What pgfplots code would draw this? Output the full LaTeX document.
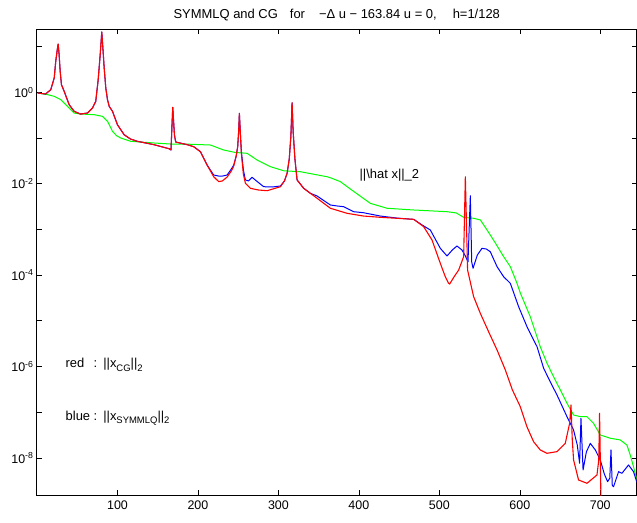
\documentclass[border=0pt]{standalone}
\usepackage{fontspec}
\setmainfont{Liberation Sans}
\usepackage{pgfplots}
\pgfplotsset{compat=1.18}
\definecolor{mgreen}{rgb}{0,1,0}
\newcommand{\sub}[1]{\raisebox{-3.5bp}{\fontsize{9.5}{10}\selectfont #1}}
\begin{document}
\begin{tikzpicture}
\begin{axis}[
  name=ax,
  at={(0,0)}, anchor=south west,
  scale only axis, width=599.5bp, height=465.5bp,
  ymode=log,
  xmin=0, xmax=745, ymin=1.54e-9, ymax=23.7,
  xtick={100,200,...,700},
  ytick={1e-8,1e-7,1e-6,1e-5,1e-4,1e-3,1e-2,1e-1,1,10},
  yticklabels={10\textsuperscript{-8},,10\textsuperscript{-6},,10\textsuperscript{-4},,10\textsuperscript{-2},,10\textsuperscript{0},},
  yminorticks=false,
  tick align=inside, tick pos=both,
  major tick length=5bp,
  tick style={black, line width=0.6bp},
  axis line style={line width=1bp},
  tick label style={font=\fontsize{12.5}{14}\selectfont},
  x tick label style={yshift=-2bp},
  /pgf/number format/assume math mode=true,
  every axis plot/.append style={line join=round},
]
% ||\hat x||_2
\addplot[mgreen, line width=1bp] coordinates {
(1,0.966) (12,0.90) (21.4,0.817) (29.6,0.689) (37.9,0.494) (46.2,0.352) (54.0,0.335)
(71.1,0.324) (81.4,0.298) (87.6,0.232) (93.8,0.140) (99,0.112) (104.1,0.1) (116.5,0.0847)
(145.6,0.0778) (166.2,0.0739) (182.4,0.0739) (215.5,0.0703) (232.0,0.0546)
(246.6,0.0482) (261.1,0.0463) (273.5,0.033) (290.0,0.0236) (306.6,0.0192)
(327.3,0.0183) (360.5,0.0142) (364.6,0.0135) (377.0,0.0111) (389.4,0.00766)
(414.2,0.00372) (435.0,0.0029) (468.1,0.00266) (509.6,0.00244) (521.1,0.00229)
(530.2,0.00184) (542.6,0.00175) (551.0,0.00161) (559.3,9.7e-4) (569.6,5.04e-4)
(579.9,2.53e-4) (588.2,1.53e-4) (596.5,6.6e-5) (600.6,4.07e-5) (613.0,1.23e-5)
(625.4,2.71e-6) (633.6,1.2e-6) (641.9,5.98e-7) (650.2,3.1e-7) (658.6,1.57e-7)
(666.8,8.69e-8) (675.1,7.98e-8) (683.4,7.98e-8) (691.6,5.71e-8) (700.0,3.17e-8)
(712.4,2.69e-8) (724.8,2.47e-8) (733.1,1.91e-8) (737.2,1.16e-8) (741.3,6.41e-9)
(745.5,3.28e-9)
};
% SYMMLQ
\addplot[blue, line width=1bp] coordinates {
(1,0.966) (10.6,0.918) (17.1,1.14) (21.4,2.06) (23.3,4.77) (25.2,8.6) (26.3,11.4)
(27.5,6.65) (28.8,2.88) (30.4,1.47) (33.8,1.05) (36.5,0.78) (40.0,0.535)
(46.2,0.384) (54.0,0.335) (62.7,0.352) (68.9,0.453) (73.0,0.635) (76.0,1.86)
(78.5,6.55) (80.5,20.9) (81.6,11.0) (83.5,3.4) (85.5,1.24) (87.6,0.69)
(89.7,0.494) (93.8,0.384) (100,0.195) (108.3,0.118) (116.1,0.0951) (124.8,0.0847)
(145.6,0.0713) (164.2,0.0583) (166.5,0.0546) (168.7,0.47) (170.8,0.116) (172.4,0.0817)
(187.0,0.0713) (194.8,0.0645) (203.1,0.0501) (211.4,0.0256)
(219.6,0.0155) (225.8,0.0147) (230.4,0.0147) (236.3,0.0155) (241.5,0.021) (244.5,0.0256)
(247.5,0.040) (249.4,0.0645) (250.6,0.14) (251.5,0.347) (252.6,0.14) (254.0,0.05)
(256.5,0.02) (259.0,0.0121) (262.7,0.0115)
(267.3,0.0138) (272.7,0.0115) (281.7,0.0086) (292.5,0.00847) (302.5,0.00891)
(307.5,0.0115) (310.8,0.0169) (313.5,0.035) (315.5,0.11) (317.0,0.592) (318.3,0.14)
(320.5,0.035) (323.2,0.0121)
(331.4,0.00793) (339.7,0.00617) (348.1,0.00538) (352.2,0.0048) (364.6,0.00342)
(373.3,0.00325) (381.2,0.00314) (387.0,0.00279) (393.6,0.00244) (405.6,0.00232)
(426.7,0.00196) (447.4,0.00177) (468.1,0.00166) (480.5,0.00119) (488.8,9.7e-4)
(501.2,3.86e-4) (509.5,2.62e-4) (516.1,3.54e-4) (521.9,4.34e-4) (528.1,3.54e-4)
(532.3,2.63e-4) (535.6,1.94e-4) (538.5,5.46e-3) (540.2,1.94e-4) (541.9,1.41e-4)
(547.2,2.75e-4) (553.0,3.86e-4) (558.4,3.72e-4) (563.3,3.25e-4) (571.7,1.53e-4)
(579.9,9.2e-5) (588.2,6.62e-5) (598.5,2.04e-5) (608.9,7.43e-6) (621.4,2.71e-6)
(629.6,9.14e-7) (637.9,4.58e-7) (646.2,2.38e-7) (658.6,7.98e-8) (666.8,4.07e-8)
(671.4,1.91e-8) (674.3,7.62e-9) (676.0,7.36e-8) (678.6,5.43e-9) (682.7,1.35e-8)
(687.6,2.08e-8) (693.8,1.49e-8) (700.0,9e-9) (705.0,4.45e-9) (709.1,3.01e-9)
(711.8,3.6e-9) (713.3,1.49e-8) (714.9,2.5e-9) (716.5,2.34e-9) (722.7,4.99e-9)
(726.9,4.6e-9) (735.1,7e-9) (741.3,4.99e-9) (745.5,2.9e-9)
};
% CG
\addplot[red, line width=1.1bp] coordinates {
(1,0.966) (10.6,0.918) (17.1,1.14) (21.4,2.06) (23.3,4.77) (25.2,8.6) (26.3,11.4)
(27.5,6.65) (28.8,2.88) (30.4,1.47) (33.8,1.05) (36.5,0.78) (40.0,0.535)
(46.2,0.384) (54.0,0.335) (62.7,0.352) (68.9,0.453) (73.0,0.635) (76.0,1.86)
(78.5,6.55) (80.5,20.9) (81.6,11.0) (83.5,3.4) (85.5,1.24) (87.6,0.69)
(89.7,0.494) (93.8,0.384) (100,0.195) (108.3,0.118) (116.1,0.0951) (124.8,0.0847)
(145.6,0.0713) (164.2,0.0583) (166.5,0.0546) (168.7,0.47) (170.8,0.116) (172.4,0.0817)
(187.0,0.0713) (194.8,0.0645) (203.1,0.0501) (211.4,0.0256) (219.6,0.0142)
(225.8,0.0111) (230.4,0.0115) (236.3,0.014) (241.5,0.019) (244.5,0.0244)
(247.5,0.040) (249.4,0.0645) (250.6,0.14) (251.5,0.347) (252.6,0.14) (254.0,0.045)
(256.5,0.016) (259.0,0.0102) (265.2,0.00793) (275.2,0.00728)
(286.0,0.00703) (302.5,0.0086) (307.5,0.0115) (310.8,0.0169) (313.5,0.035)
(315.5,0.11) (317.0,0.592) (318.3,0.14) (320.5,0.035) (323.2,0.0121)
(331.4,0.00793) (339.7,0.00617) (348.1,0.0048)
(364.6,0.0029) (385.3,0.00225) (405.9,0.00196) (426.7,0.00184) (447.4,0.00175)
(468.1,0.00166) (480.5,0.00115) (490.9,5.86e-4) (501.2,1.81e-4) (507.4,9.2e-5)
(511.5,6.62e-5) (512.8,6.38e-5) (518,9.0e-5) (524.0,1.29e-4) (530.2,2.53e-4)
(532.3,0.0142) (535.1,1.29e-4) (542.6,3.37e-5) (550.9,1.46e-5) (561.2,5.77e-6)
(571.7,2.3e-6) (582,8.4e-7) (590.7,3.09e-7) (600.6,1.32e-7) (608.8,4.82e-8)
(617.1,2.26e-8) (625.4,1.49e-8) (633.8,1.26e-8) (646.2,1.37e-8) (656.5,2.09e-8)
(661.9,5.71e-8) (663.6,1.44e-7) (665.2,2.47e-8) (666.8,8.99e-9) (673.0,3.28e-9)
(683.5,2.78e-9) (695.9,4.23e-9) (698.1,9e-9) (699.1,9.46e-8) (701.2,5e-10)
(703.7,2.6e-10)
};
\node[anchor=center, font=\fontsize{13}{15}\selectfont] at (axis cs:437.9,0.0155) {||\textbackslash hat x||\_2};
\node[anchor=west, inner sep=0pt, font=\fontsize{13}{15}\selectfont] at (axis cs:35.4,1.08e-6)
  {\makebox[28bp][l]{red}:\hspace{6bp}||x\sub{CG}||\sub{2}};
\node[anchor=west, inner sep=0pt, font=\fontsize{13}{15}\selectfont] at (axis cs:35.4,7.46e-8)
  {\makebox[28bp][l]{blue}:\hspace{6bp}||x\sub{SYMMLQ}||\sub{2}};
\end{axis}
\node[anchor=base, yshift=11bp, font=\fontsize{13}{15}\selectfont] at (ax.north)
  {SYMMLQ and CG\hspace{12bp}for\hspace{14bp}−Δ u − 163.84 u = 0,\hspace{16bp}h=1/128};
\pgfresetboundingbox
\path[use as bounding box] (-37bp,-28bp) rectangle (600bp,495bp);
\end{tikzpicture}
\end{document}
